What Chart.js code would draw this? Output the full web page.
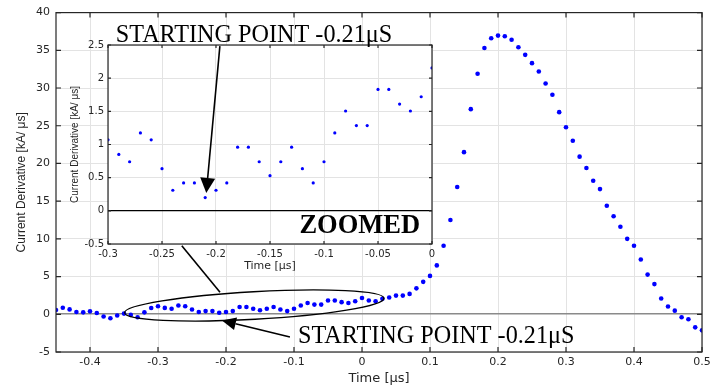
<!DOCTYPE html>
<html>
<head>
<meta charset="utf-8">
<script src="https://cdn.jsdelivr.net/npm/chart.js@4.4.1/dist/chart.umd.min.js"></script>
<style>
  html, body { margin: 0; padding: 0; background: #fff; }
  #wrap { position: relative; width: 728px; height: 391px; }
  #wrap canvas { position: absolute; left: 0; top: 0; }
</style>
</head>
<body>
<div id="wrap">
  <canvas id="mainChart" width="728" height="391"></canvas>
  <canvas id="zoomChart" width="728" height="391"></canvas>
</div>
<script>
// sample times [us]
const timeUs = [
  -0.45, -0.44, -0.43, -0.42, -0.41, -0.40, -0.39, -0.38, -0.37, -0.36,
  -0.35, -0.34, -0.33, -0.32, -0.31, -0.30, -0.29, -0.28, -0.27, -0.26,
  -0.25, -0.24, -0.23, -0.22, -0.21, -0.20, -0.19, -0.18, -0.17, -0.16,
  -0.15, -0.14, -0.13, -0.12, -0.11, -0.10, -0.09, -0.08, -0.07, -0.06,
  -0.05, -0.04, -0.03, -0.02, -0.01, 0.00, 0.01, 0.02, 0.03, 0.04,
  0.05, 0.06, 0.07, 0.08, 0.09, 0.10, 0.11, 0.12, 0.13, 0.14,
  0.15, 0.16, 0.17, 0.18, 0.19, 0.20, 0.21, 0.22, 0.23, 0.24,
  0.25, 0.26, 0.27, 0.28, 0.29, 0.30, 0.31, 0.32, 0.33, 0.34,
  0.35, 0.36, 0.37, 0.38, 0.39, 0.40, 0.41, 0.42, 0.43, 0.44,
  0.45, 0.46, 0.47, 0.48, 0.49, 0.50
];
// current derivative [kA/us]
const currentDeriv = [
  0.57, 0.87, 0.65, 0.31, 0.26, 0.39, 0.18, -0.30, -0.52, -0.17,
  0.09, -0.08, -0.39, 0.26, 0.83, 1.07, 0.85, 0.74, 1.175, 1.07,
  0.635, 0.31, 0.42, 0.42, 0.20, 0.31, 0.42, 0.96, 0.96, 0.74,
  0.53, 0.74, 0.96, 0.635, 0.42, 0.74, 1.175, 1.505, 1.285, 1.285,
  1.83, 1.83, 1.61, 1.505, 1.72, 2.155, 1.83, 1.72, 2.05, 2.22,
  2.48, 2.48, 2.70, 3.44, 4.30, 5.09, 6.48, 9.09, 12.5, 16.87,
  21.5, 27.2, 31.9, 35.3, 36.6, 36.95, 36.86, 36.4, 35.4, 34.4,
  33.3, 32.2, 30.6, 29.1, 26.8, 24.8, 23.0, 20.9, 19.4, 17.7,
  16.6, 14.4, 13.0, 11.6, 10.0, 9.09, 7.26, 5.26, 4.0, 2.09,
  1.04, 0.48, -0.39, -0.65, -1.73, -2.13
];

const mainXTicks = [-0.4, -0.3, -0.2, -0.1, 0, 0.1, 0.2, 0.3, 0.4, 0.5];
const mainYTicks = [-5, 0, 5, 10, 15, 20, 25, 30, 35, 40];
const zoomXTicks = [-0.3, -0.25, -0.2, -0.15, -0.1, -0.05, 0];
const zoomYTicks = [-0.5, 0, 0.5, 1, 1.5, 2, 2.5];
const zoomWindow = [-0.3, 0];
const startTime = -0.21;

const points = timeUs.map((t, i) => ({ x: t, y: currentDeriv[i] }));
const zoomPoints = points.filter(p => p.x >= zoomWindow[0] - 1e-9 && p.x <= zoomWindow[1] + 1e-9);

const fmt = v => String(parseFloat(Number(v).toFixed(2)));
const gridGray = "#e3e3e3";
const axisColor = "#262626";

// box with inward ticks, matlab style
function framePlugin(tickLen) {
  return {
    id: "frame",
    afterDatasetsDraw(chart) {
      const { ctx, chartArea: a, scales } = chart;
      ctx.save();
      ctx.strokeStyle = axisColor;
      ctx.lineWidth = 1.2;
      ctx.strokeRect(a.left, a.top, a.right - a.left, a.bottom - a.top);
      ctx.beginPath();
      scales.x.ticks.forEach(t => {
        const px = scales.x.getPixelForValue(t.value);
        ctx.moveTo(px, a.bottom); ctx.lineTo(px, a.bottom - tickLen);
        ctx.moveTo(px, a.top); ctx.lineTo(px, a.top + tickLen);
      });
      scales.y.ticks.forEach(t => {
        const py = scales.y.getPixelForValue(t.value);
        ctx.moveTo(a.left, py); ctx.lineTo(a.left + tickLen, py);
        ctx.moveTo(a.right, py); ctx.lineTo(a.right - tickLen, py);
      });
      ctx.stroke();
      ctx.restore();
    }
  };
}

const whiteArea = {
  id: "whiteArea",
  beforeDraw(chart) {
    const { ctx, chartArea: a } = chart;
    ctx.save();
    ctx.fillStyle = "#fff";
    ctx.fillRect(a.left, a.top, a.right - a.left, a.bottom - a.top);
    ctx.restore();
  }
};

const mainChart = new Chart(document.getElementById("mainChart"), {
  type: "scatter",
  data: {
    datasets: [{
      data: points,
      pointRadius: 2.3,
      pointBackgroundColor: "#0000ff",
      pointBorderColor: "#0000ff",
      pointBorderWidth: 0
    }]
  },
  options: {
    responsive: false,
    animation: false,
    devicePixelRatio: 1,
    layout: { padding: { left: 0, top: 7, right: 26, bottom: 0 } },
    plugins: { legend: { display: false }, tooltip: { enabled: false } },
    scales: {
      x: {
        type: "linear", min: -0.45, max: 0.5,
        afterBuildTicks: s => { s.ticks = mainXTicks.map(v => ({ value: v })); },
        afterFit: s => { s.height = 39; },
        grid: { color: gridGray, drawTicks: false },
        border: { display: false },
        ticks: { autoSkip: false, maxRotation: 0, padding: 3.4, color: axisColor,
                 font: { family: "DejaVu Sans", size: 11 }, callback: fmt },
        title: { display: true, text: "Time [\u03bcs]", color: axisColor,
                 font: { family: "DejaVu Sans", size: 13 }, padding: { top: 0, bottom: 5 } }
      },
      y: {
        type: "linear", min: -5, max: 40,
        afterBuildTicks: s => { s.ticks = mainYTicks.map(v => ({ value: v })); },
        afterFit: s => { s.width = 56; },
        grid: {
          color: c => (c.tick && c.tick.value === 0 ? "#8a8a8a" : gridGray),
          lineWidth: c => (c.tick && c.tick.value === 0 ? 1.6 : 1),
          drawTicks: false
        },
        border: { display: false },
        ticks: { autoSkip: false, padding: 6, color: axisColor,
                 font: { family: "DejaVu Sans", size: 11 }, callback: fmt },
        title: { display: true, text: "Current Derivative [kA/ \u03bcs]", color: axisColor,
                 font: { family: "Liberation Sans", size: 12 }, padding: { top: 14, bottom: 0 } }
      }
    }
  },
  plugins: [framePlugin(5)]
});

// arrows, ellipse and labels laid over both charts
function drawArrow(ctx, x0, y0, x1, y1, headLen, headW) {
  const ang = Math.atan2(y1 - y0, x1 - x0);
  const bx = x1 - headLen * Math.cos(ang), by = y1 - headLen * Math.sin(ang);
  ctx.beginPath(); ctx.moveTo(x0, y0); ctx.lineTo(bx, by); ctx.stroke();
  ctx.beginPath();
  ctx.moveTo(x1, y1);
  ctx.lineTo(bx + headW / 2 * Math.sin(ang), by - headW / 2 * Math.cos(ang));
  ctx.lineTo(bx - headW / 2 * Math.sin(ang), by + headW / 2 * Math.cos(ang));
  ctx.closePath(); ctx.fill();
}

const notes = {
  id: "notes",
  afterDraw(chart) {
    const ctx = chart.ctx;
    const mx = t => mainChart.scales.x.getPixelForValue(t);
    const my = v => mainChart.scales.y.getPixelForValue(v);
    const zx = t => chart.scales.x.getPixelForValue(t);
    const zy = v => chart.scales.y.getPixelForValue(v);
    ctx.save();
    ctx.strokeStyle = "#000";
    ctx.fillStyle = "#000";

    // ellipse around the early samples
    const cx = mx(-0.1584), cy = my(1.16);
    const rx = mx(-0.1584 + 0.191) - cx, ry = my(1.16) - my(1.16 + 1.83);
    ctx.lineWidth = 1.4;
    ctx.beginPath();
    ctx.ellipse(cx, cy, rx, ry, -3.2 * Math.PI / 180, 0, Math.PI * 2);
    ctx.stroke();

    // connector from inset to ellipse
    ctx.lineWidth = 1.6;
    ctx.beginPath();
    ctx.moveTo(mx(-0.265), my(9.1));
    ctx.lineTo(mx(-0.2088), my(2.93));
    ctx.stroke();

    // lower arrow
    drawArrow(ctx, mx(-0.106), my(-3.0), mx(startTime + 0.004), my(-0.82), 14, 13);

    // arrow into inset
    drawArrow(ctx, mx(-0.209), my(35.55), zx(startTime + 0.001), zy(0.27), 15, 15);

    ctx.font = "24.2px 'Liberation Serif'";
    ctx.textBaseline = "alphabetic";
    ctx.textAlign = "left";
    ctx.fillText("STARTING POINT -0.21\u03bcS", mx(-0.094), my(-3.82));
    ctx.fillText("STARTING POINT -0.21\u03bcS", mx(-0.362), my(36.08));

    ctx.font = "bold 26.5px 'Liberation Serif'";
    ctx.textAlign = "right";
    ctx.fillText("ZOOMED", zx(-0.011), zy(-0.335));
    ctx.restore();
  }
};

const zoomChart = new Chart(document.getElementById("zoomChart"), {
  type: "scatter",
  data: {
    datasets: [{
      data: zoomPoints,
      pointRadius: 1.6,
      pointBackgroundColor: "#0000ff",
      pointBorderColor: "#0000ff",
      pointBorderWidth: 0
    }]
  },
  options: {
    responsive: false,
    animation: false,
    devicePixelRatio: 1,
    layout: { padding: { left: 69, top: 45, right: 296, bottom: 117 } },
    plugins: { legend: { display: false }, tooltip: { enabled: false } },
    scales: {
      x: {
        type: "linear", min: zoomWindow[0], max: zoomWindow[1],
        afterBuildTicks: s => { s.ticks = zoomXTicks.map(v => ({ value: v })); },
        afterFit: s => { s.height = 30; },
        grid: { color: gridGray, drawTicks: false },
        border: { display: false },
        ticks: { autoSkip: false, maxRotation: 0, padding: 4, color: axisColor,
                 font: { family: "DejaVu Sans", size: 10 }, callback: fmt },
        title: { display: true, text: "Time [\u03bcs]", color: axisColor,
                 font: { family: "DejaVu Sans", size: 11 }, padding: { top: 0, bottom: 1.4 } }
      },
      y: {
        type: "linear", min: -0.5, max: 2.5,
        afterBuildTicks: s => { s.ticks = zoomYTicks.map(v => ({ value: v })); },
        afterFit: s => { s.width = 39; },
        grid: {
          color: c => (c.tick && c.tick.value === 0 ? "#000" : gridGray),
          lineWidth: c => (c.tick && c.tick.value === 0 ? 1.2 : 1),
          drawTicks: false
        },
        border: { display: false },
        ticks: { autoSkip: false, padding: 4, color: axisColor,
                 font: { family: "DejaVu Sans", size: 10 }, callback: fmt },
        title: { display: true, text: "Current Derivative [kA/ \u03bcs]", color: axisColor,
                 font: { family: "Liberation Sans", size: 10 }, padding: { top: 0, bottom: 0 } }
      }
    }
  },
  plugins: [whiteArea, framePlugin(3), notes]
});
</script>
</body>
</html>
